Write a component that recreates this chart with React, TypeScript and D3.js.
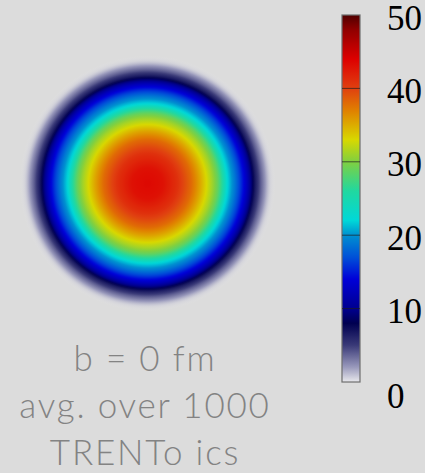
import React, { useEffect, useRef } from 'react';
import * as d3 from 'd3';

// colour map of the scale (value -> colour)
const cmapValues = [0, 2, 5, 8, 10, 14, 17, 20, 22, 26, 30, 33, 37, 40, 44, 48, 50];
const cmapColors = [
  '#e8e8ec', '#9a9abc', '#3a3a78', '#000050', '#000090', '#0000d8', '#0050d8', '#0090d0',
  '#00d8d8', '#20d8a0', '#80d040', '#d8d800', '#e08000', '#e04010', '#dd0000', '#900000', '#500000',
];

// radial profile of the averaged density (distance from centre in px -> value)
const profileRadius = [0, 15, 30, 44, 52, 59, 65, 70, 75, 80, 87, 93, 100, 107, 113, 118, 123, 128];
const profileValue = [43.5, 43, 41, 38, 35.5, 33, 31, 29, 26, 22, 19, 16, 12, 7, 4, 2, 0.8, 0];

const scaleTicks = [0, 10, 20, 30, 40, 50];
const captionLines = ['b = 0 fm', 'avg. over 1000', 'TRENTo ics'];

const App: React.FC = () => {
  const svgRef = useRef<SVGSVGElement | null>(null);

  useEffect(() => {
    const svg = d3.select(svgRef.current);
    svg.selectAll('*').remove();

    const width = 425;
    const height = 473;
    const cx = 147.5;
    const cy = 183.5;
    const R = d3.max(profileRadius) as number;

    const cmap = d3.scaleLinear<string>().domain(cmapValues).range(cmapColors).interpolate(d3.interpolateRgb).clamp(true);
    const profile = d3.scaleLinear().domain(profileRadius).range(profileValue).clamp(true);

    svg.append('rect').attr('width', width).attr('height', height).attr('fill', '#dcdcdc');

    const defs = svg.append('defs');

    // disk
    const rg = defs.append('radialGradient')
      .attr('id', 'disk')
      .attr('gradientUnits', 'userSpaceOnUse')
      .attr('cx', cx).attr('cy', cy).attr('r', R);
    d3.range(0, 101).forEach(i => {
      const v = profile((i / 100) * R);
      rg.append('stop')
        .attr('offset', `${i}%`)
        .attr('stop-color', cmap(v))
        .attr('stop-opacity', Math.min(1, v / 2));
    });
    svg.append('circle').attr('cx', cx).attr('cy', cy).attr('r', R).attr('fill', 'url(#disk)');

    // colour bar
    const y = d3.scaleLinear().domain([0, 50]).range([382, 15]);
    const barX = 342;
    const barW = 18;
    const lg = defs.append('linearGradient')
      .attr('id', 'bar')
      .attr('x1', 0).attr('y1', 1).attr('x2', 0).attr('y2', 0);
    d3.range(0, 101).forEach(i => {
      lg.append('stop').attr('offset', `${i}%`).attr('stop-color', cmap(i / 2));
    });
    svg.append('rect')
      .attr('x', barX).attr('y', y(50)).attr('width', barW).attr('height', y(0) - y(50))
      .attr('fill', 'url(#bar)')
      .attr('stroke', '#6e6e6e').attr('stroke-width', 1.2);

    svg.append('g')
      .selectAll('line')
      .data(scaleTicks.filter(t => t > 0 && t < 50))
      .join('line')
      .attr('x1', barX).attr('x2', barX + barW)
      .attr('y1', d => y(d)).attr('y2', d => y(d))
      .attr('stroke', '#202020').attr('stroke-opacity', 0.7).attr('stroke-width', 1);

    svg.append('g')
      .selectAll('text')
      .data(scaleTicks)
      .join('text')
      .attr('x', 387)
      .attr('y', d => y(d) + (d === 0 ? 26 : 14.5))
      .attr('font-family', '"Liberation Serif", serif')
      .attr('font-size', 35)
      .attr('fill', '#000')
      .text(d => d);

    // caption
    svg.append('g')
      .selectAll('text')
      .data(captionLines)
      .join('text')
      .attr('x', 145)
      .attr('y', (d, i) => 371 + i * 47)
      .attr('text-anchor', 'middle')
      .attr('font-family', 'Lato, sans-serif')
      .attr('font-weight', 300)
      .attr('font-size', 35)
      .attr('letter-spacing', 1.8)
      .attr('fill', '#838383')
      .text(d => d);
  }, []);

  return (
    <svg ref={svgRef} width={425} height={473} style={{ position: 'absolute', left: 0, top: 0 }} />
  );
};

export default App;
